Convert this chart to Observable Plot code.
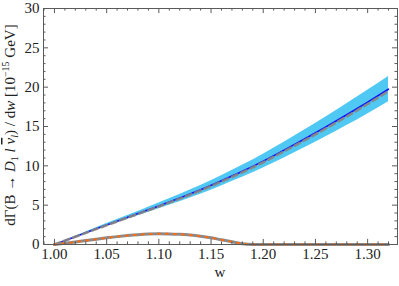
<!DOCTYPE html>
<html>
<head>
<meta charset="utf-8">
<script src="https://cdn.jsdelivr.net/npm/d3@7"></script>
<script src="https://cdn.jsdelivr.net/npm/@observablehq/plot@0.6"></script>
<style>
  html, body { margin: 0; padding: 0; background: #fff; }
  #chart svg { display: block; }
</style>
</head>
<body>
<div id="chart"></div>
<script>
// ---- data ----
const wBlue   = [1.00, 1.02, 1.04, 1.06, 1.08, 1.10, 1.12, 1.14, 1.16, 1.18, 1.20, 1.22, 1.24, 1.26, 1.28, 1.30, 1.32];
const central = [0, 1.0, 1.99, 2.97, 3.93, 4.9, 5.9, 6.95, 8.1, 9.3, 10.6, 12.0, 13.45, 14.95, 16.5, 18.1, 19.75];
const upper   = [0, 1.06, 2.12, 3.17, 4.21, 5.26, 6.35, 7.5, 8.75, 10.06, 11.48, 13.0, 14.58, 16.2, 17.88, 19.6, 21.35];
const lower   = [0, 0.94, 1.86, 2.77, 3.65, 4.54, 5.45, 6.4, 7.45, 8.54, 9.72, 11.0, 12.32, 13.7, 15.12, 16.6, 18.15];
const dashed  = [0, 0.98, 1.96, 2.93, 3.88, 4.84, 5.83, 6.87, 8.0, 9.18, 10.46, 11.84, 13.27, 14.75, 16.28, 17.86, 19.5];

const wOrange = [1.00, 1.01, 1.02, 1.03, 1.04, 1.05, 1.06, 1.07, 1.08, 1.09, 1.10, 1.11, 1.12, 1.13, 1.14, 1.15, 1.16, 1.17, 1.18, 1.19, 1.20, 1.26, 1.32];
const orange  = [0, 0.15, 0.32, 0.5, 0.68, 0.85, 1.0, 1.13, 1.24, 1.32, 1.36, 1.35, 1.3, 1.2, 1.05, 0.85, 0.6, 0.35, 0.1, 0, 0, 0, 0];

const xTicks = [1.00, 1.05, 1.10, 1.15, 1.20, 1.25, 1.30];
const xTickLabels = ["1.00", "1.05", "1.10", "1.15", "1.20", "1.25", "1.30"];
const yTicks = [0, 5, 10, 15, 20, 25, 30];
const xMinor = d3.range(99, 133).map(i => i / 100).filter(v => !xTicks.some(t => Math.abs(t - v) < 1e-9));
const yMinor = d3.range(0, 31).filter(v => v % 5 !== 0);

const blueRows = wBlue.map((w, i) => ({w, c: central[i], hi: upper[i], lo: lower[i], d: dashed[i]}));
const orangeRows = wOrange.map((w, i) => ({w, v: orange[i]}));

const xDomain = [0.9895, 1.3286];
const yDomain = [0, 30];
const frameColor = "#5a5a5a";
// tick lengths expressed in data units (approx. 5px / 2.5px)
const xMaj = 0.65, xMin = 0.33;       // y-units for x ticks
const yMaj = 0.0048, yMin = 0.0024;   // x-units for y ticks

const plot = Plot.plot({
  width: 399,
  height: 286,
  marginLeft: 43,
  marginRight: 2,
  marginTop: 8,
  marginBottom: 42,
  style: {fontFamily: "'Liberation Serif', 'Times New Roman', serif", fontSize: "15px", color: "#222", background: "#fff"},
  x: {domain: xDomain},
  y: {domain: yDomain},
  marks: [
    Plot.areaY(blueRows, {x: "w", y1: "lo", y2: "hi", fill: "#4fc8f4", curve: "natural"}),
    Plot.lineY(blueRows, {x: "w", y: "c", stroke: "#1010ff", strokeWidth: 1.6, curve: "natural"}),
    Plot.lineY(blueRows, {x: "w", y: "d", stroke: "#8a8580", strokeOpacity: 0.9, strokeWidth: 2.6, strokeDasharray: "6,4", curve: "natural"}),
    Plot.lineY(orangeRows, {x: "w", y: "v", stroke: "#8a8a8a", strokeWidth: 3, curve: "monotone-x"}),
    Plot.lineY(orangeRows, {x: "w", y: "v", stroke: "#ff6a10", strokeWidth: 2, strokeDasharray: "2,6", curve: "monotone-x"}),
    // inward ticks (Mathematica-style frame ticks)
    Plot.ruleX(xTicks, {x: d => d, y1: 0, y2: xMaj, stroke: frameColor}),
    Plot.ruleX(xMinor, {x: d => d, y1: 0, y2: xMin, stroke: frameColor}),
    Plot.ruleX(xTicks, {x: d => d, y1: 30, y2: 30 - xMaj, stroke: frameColor}),
    Plot.ruleX(xMinor, {x: d => d, y1: 30, y2: 30 - xMin, stroke: frameColor}),
    Plot.ruleY(yTicks, {y: d => d, x1: xDomain[0], x2: xDomain[0] + yMaj, stroke: frameColor}),
    Plot.ruleY(yMinor, {y: d => d, x1: xDomain[0], x2: xDomain[0] + yMin, stroke: frameColor}),
    Plot.ruleY(yTicks, {y: d => d, x1: xDomain[1], x2: xDomain[1] - yMaj, stroke: frameColor}),
    Plot.ruleY(yMinor, {y: d => d, x1: xDomain[1], x2: xDomain[1] - yMin, stroke: frameColor}),
    Plot.frame({stroke: frameColor}),
    Plot.axisX(xTicks, {tickSize: 0, tickPadding: 4, tickFormat: (d, i) => xTickLabels[i], label: null}),
    Plot.axisY(yTicks, {tickSize: 0, tickPadding: 4, label: null})
  ]
});

const svg = d3.select(plot);
// x label
svg.append("text")
  .attr("x", 220).attr("y", 277)
  .attr("text-anchor", "middle")
  .attr("font-size", "15px")
  .attr("fill", "#222")
  .text("w");
// y label (rotated, with rich formatting)
const yl = svg.append("text")
  .attr("transform", "translate(15,125) rotate(-90)")
  .attr("text-anchor", "middle")
  .attr("font-size", "15px")
  .attr("fill", "#222");
yl.append("tspan").text("dΓ(B → ");
yl.append("tspan").attr("font-style", "italic").text("D");
yl.append("tspan").attr("font-size", "10px").attr("dy", "3").text("1");
yl.append("tspan").attr("dy", "-3").attr("font-style", "italic").text(" l ");
yl.append("tspan").attr("font-style", "italic").attr("text-decoration", "overline").text("ν");
yl.append("tspan").attr("font-size", "10px").attr("dy", "3").attr("font-style", "italic").text("l");
yl.append("tspan").attr("dy", "-3").text(") / d");
yl.append("tspan").attr("font-style", "italic").text("w");
yl.append("tspan").text(" [10");
yl.append("tspan").attr("font-size", "10px").attr("dy", "-6").text("−15");
yl.append("tspan").attr("dy", "6").text(" GeV]");

document.getElementById("chart").appendChild(plot);
</script>
</body>
</html>
